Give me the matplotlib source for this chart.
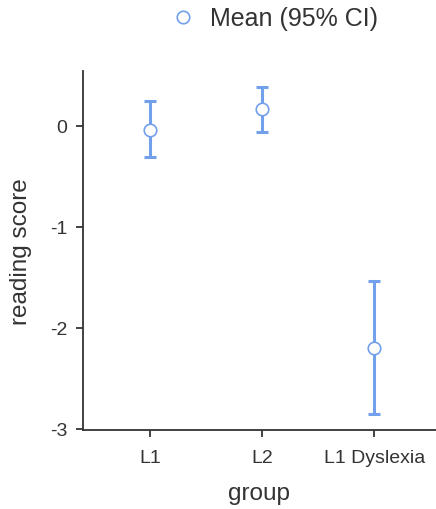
import matplotlib
matplotlib.use("Agg")
import matplotlib.pyplot as plt
from matplotlib.lines import Line2D

plt.rcParams['font.family'] = ['Liberation Sans', 'DejaVu Sans']

GROUPS = ["L1", "L2", "L1 Dyslexia"]
MEANS = [-0.04, 0.16, -2.20]
CI_LOW = [-0.31, -0.06, -2.85]
CI_HIGH = [0.24, 0.38, -1.54]

BLUE = "#72a0ea"
DARK = "#333333"

fig = plt.figure(figsize=(4.36, 5.10), dpi=100)
ax = fig.add_axes([0.190, 0.155, 0.810, 0.704])

x = list(range(len(GROUPS)))
yerr = [[m - lo for m, lo in zip(MEANS, CI_LOW)],
        [hi - m for m, hi in zip(MEANS, CI_HIGH)]]
ax.errorbar(x, MEANS, yerr=yerr, fmt="none", ecolor=BLUE, elinewidth=2.2,
            capsize=4.5, capthick=2.2, zorder=2)
ax.plot(x, MEANS, "o", markersize=9, markerfacecolor="white",
        markeredgecolor=BLUE, markeredgewidth=1.2, zorder=3)

ax.set_xlim(-0.6, 2.55)
ax.set_ylim(-3.01, 0.54)
ax.set_xticks(x)
ax.set_xticklabels(GROUPS)
ax.set_yticks([0, -1, -2, -3])
ax.set_yticklabels(["0", "-1", "-2", "-3"])

for side in ["top", "right"]:
    ax.spines[side].set_visible(False)
for side in ["left", "bottom"]:
    ax.spines[side].set_color(DARK)
    ax.spines[side].set_linewidth(1.3)

ax.tick_params(axis="both", colors=DARK, labelcolor=DARK, length=5, width=1.3,
               labelsize=14, pad=6)
ax.tick_params(axis="x", pad=9)
ax.set_xlabel("group", fontsize=17.5, color=DARK, labelpad=11)
ax.set_ylabel("reading score", fontsize=17.5, color=DARK, labelpad=13)

handle = Line2D([], [], linestyle="none", marker="o", markersize=9,
                markerfacecolor="white", markeredgecolor=BLUE, markeredgewidth=1.2)
fig.legend([handle], ["Mean (95% CI)"], loc="center", bbox_to_anchor=(0.622, 0.962),
           frameon=False, fontsize=18, labelcolor=DARK, handletextpad=0.35,
           handlelength=1.5)

fig.savefig("out.png", dpi=100)
